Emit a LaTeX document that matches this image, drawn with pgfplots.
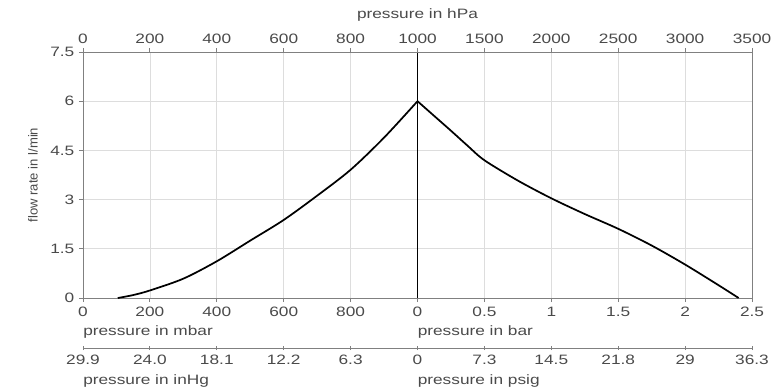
\documentclass[border=0pt]{standalone}
\usepackage{fontspec}
\setmainfont[FakeStretch=1.27]{Liberation Sans}
\newfontfamily\ylabfont{Liberation Sans}
\usepackage{pgfplots}
\pgfplotsset{compat=1.18}
\definecolor{txt}{HTML}{4A4A4A}
\definecolor{axl}{HTML}{808080}
\definecolor{grd}{HTML}{DDDDDD}
\pgfplotsset{base/.style={scale only axis, width=501.75pt, height=184.5pt,
  xmin=0, xmax=10, ymin=0, ymax=7.5,
  /pgf/number format/assume math mode=true,
  tick label style={font=\fontsize{10.2}{12}\selectfont, text=txt},
  axis line style={axl, line width=0.7pt},
  tick style={axl, line width=0.7pt},
  major tick length=3pt}}
\begin{document}
\begin{tikzpicture}
\useasboundingbox (-62.25pt,-69pt) rectangle (522.75pt,223.5pt);
\begin{axis}[base, clip=false,
  xtick={0,1,2,3,4,5,6,7,8,9,10},
  xticklabels={0,200,400,600,800,0,0.5,1,1.5,2,2.5},
  ytick={0,1.5,3,4.5,6,7.5},
  yticklabels={0,1.5,3,4.5,6,7.5},
  xtick pos=bottom, ytick pos=left, tick align=outside,
  grid=major, major grid style={grd, line width=0.6pt}]
\draw[black, line width=0.8pt] (axis cs:5,0) -- (axis cs:5,7.5);
\addplot[black, line width=1.3pt, smooth] coordinates {
(0.52,0) (0.75,0.09) (1,0.23) (1.5,0.59) (2,1.12) (2.5,1.75) (3,2.38) (3.5,3.12) (4,3.91) (4.5,4.89) (5,6)};
\addplot[black, line width=1.3pt, smooth] coordinates {
(5,6) (5.25,5.55) (5.5,5.1) (5.75,4.64) (6,4.2) (6.5,3.58) (7,3.04) (7.5,2.56) (8,2.11) (8.5,1.6) (9,1.02) (9.5,0.39) (9.8,0)};
\node[anchor=west, inner sep=0pt, text=txt, font=\fontsize{10.2}{12}\selectfont, yshift=-25.5pt] at (axis cs:0,0) {pressure in mbar};
\node[anchor=west, inner sep=0pt, text=txt, font=\fontsize{10.2}{12}\selectfont, yshift=-25.5pt] at (axis cs:5,0) {pressure in bar};
\node[anchor=west, inner sep=0pt, text=txt, font=\fontsize{10.2}{12}\selectfont, yshift=-62.25pt] at (axis cs:0,0) {pressure in inHg};
\node[anchor=west, inner sep=0pt, text=txt, font=\fontsize{10.2}{12}\selectfont, yshift=-62.25pt] at (axis cs:5,0) {pressure in psig};
\node[inner sep=0pt, text=txt, font=\fontsize{10.2}{12}\selectfont, yshift=27.75pt] at (axis cs:5,7.5) {pressure in hPa};
\path (axis cs:0,3.75) ++(-37.5pt,0pt) node[rotate=90, inner sep=0pt, text=txt, font=\ylabfont\fontsize{9.8}{12}\selectfont] {flow rate in l/min};
\end{axis}
\begin{axis}[base, axis x line*=top, axis y line=none, tick align=outside,
  xtick={0,1,2,3,4,5,6,7,8,9,10},
  xticklabels={0,200,400,600,800,1000,1500,2000,2500,3000,3500}]
\end{axis}
\begin{axis}[base, at={(0pt,-37.5pt)}, axis x line*=bottom, axis y line=none, tick align=center,
  xtick={0,1,2,3,4,5,6,7,8,9,10},
  xticklabels={29.9,24.0,18.1,12.2,6.3,0,7.3,14.5,21.8,29,36.3}]
\end{axis}
\end{tikzpicture}
\end{document}
